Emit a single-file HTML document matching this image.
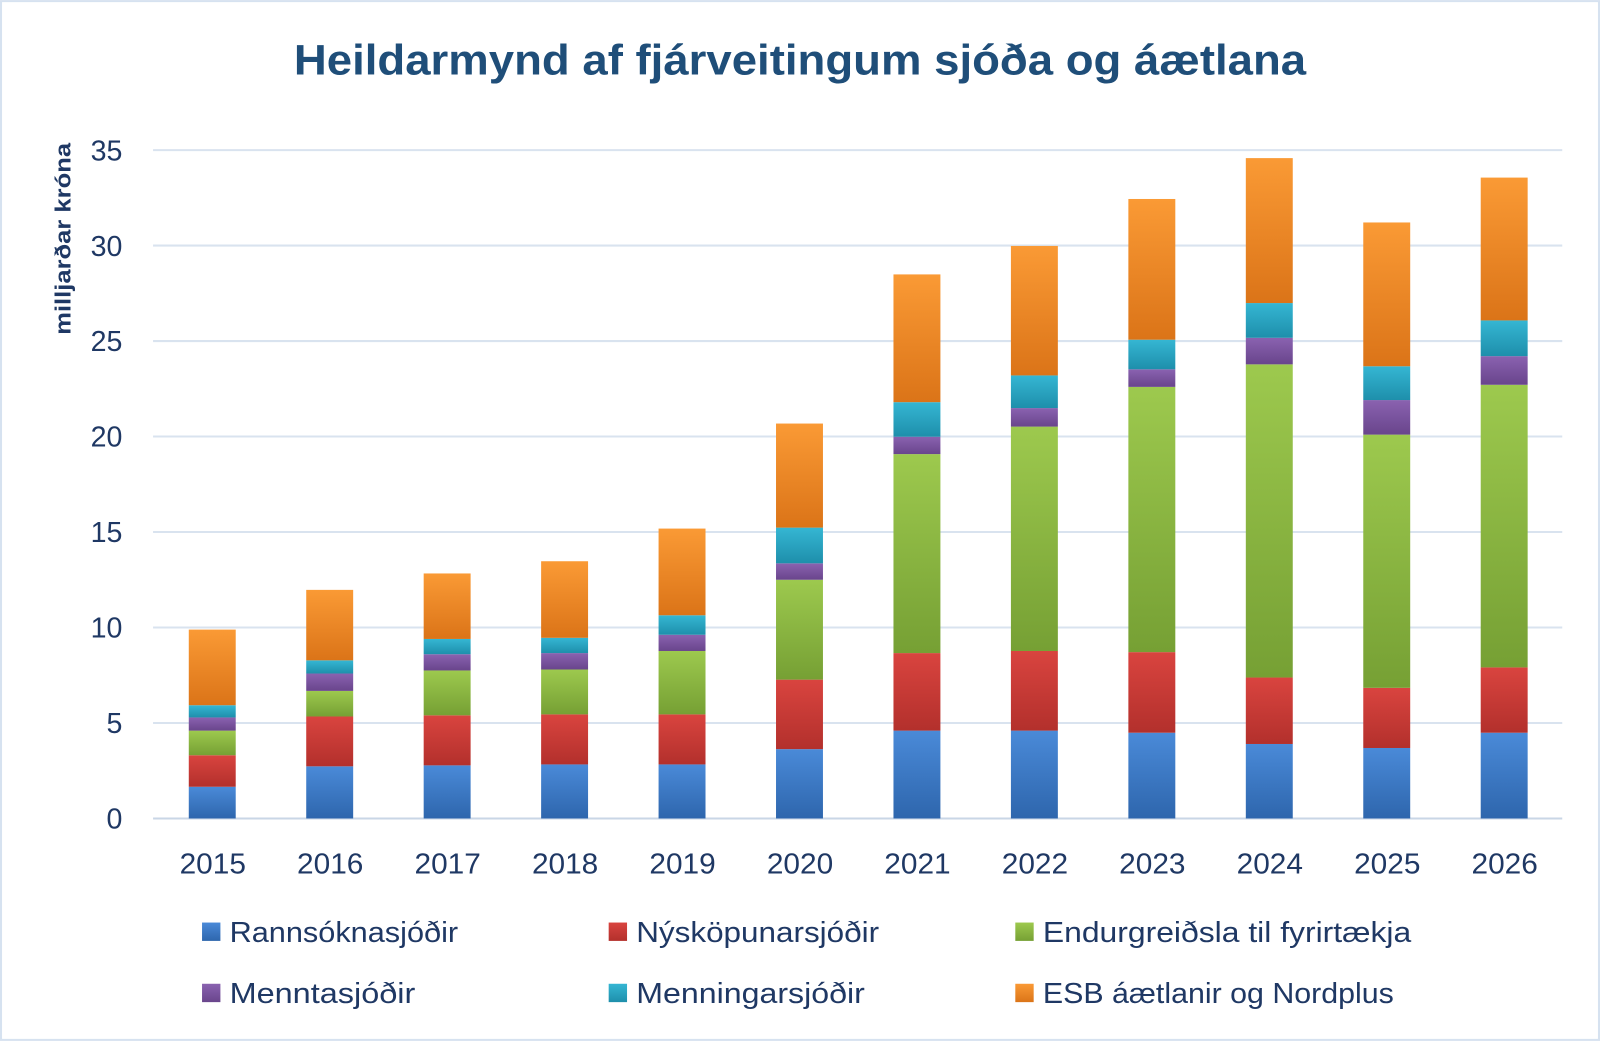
<!DOCTYPE html>
<html><head><meta charset="utf-8"><style>
body{margin:0;background:#fff;}
svg{display:block;font-family:"Liberation Sans",sans-serif;}
</style></head><body>
<svg id="chart" width="1600" height="1041" viewBox="0 0 1568 1020">
<defs>
<linearGradient id="g0" x1="0" y1="0" x2="0" y2="1"><stop offset="0" stop-color="#4a8ad8"/><stop offset="1" stop-color="#2e66ad"/></linearGradient>
<linearGradient id="g1" x1="0" y1="0" x2="0" y2="1"><stop offset="0" stop-color="#d9443f"/><stop offset="1" stop-color="#b3302c"/></linearGradient>
<linearGradient id="g2" x1="0" y1="0" x2="0" y2="1"><stop offset="0" stop-color="#9dc94e"/><stop offset="1" stop-color="#76a034"/></linearGradient>
<linearGradient id="g3" x1="0" y1="0" x2="0" y2="1"><stop offset="0" stop-color="#8a62b0"/><stop offset="1" stop-color="#69458c"/></linearGradient>
<linearGradient id="g4" x1="0" y1="0" x2="0" y2="1"><stop offset="0" stop-color="#35b6d3"/><stop offset="1" stop-color="#1e8fab"/></linearGradient>
<linearGradient id="g5" x1="0" y1="0" x2="0" y2="1"><stop offset="0" stop-color="#fa9a35"/><stop offset="1" stop-color="#db7418"/></linearGradient>
</defs>
<rect x="1" y="1" width="1566" height="1018" fill="#fff" stroke="#d6e2f0" stroke-width="2"/>
<text x="288" y="73" textLength="992" lengthAdjust="spacingAndGlyphs" font-size="42" font-weight="bold" fill="#1f4e79">Heildarmynd af fjárveitingum sjóða og áætlana</text>
<text transform="translate(69,328) rotate(-90)" textLength="188" lengthAdjust="spacingAndGlyphs" font-size="22" font-weight="bold" fill="#1f3864">milljarðar króna</text>
<g id="grid"></g><g id="bars"></g><g id="legend"></g>
</svg>
<script>
const categories=["2015","2016","2017","2018","2019","2020","2021","2022","2023","2024","2025","2026"];
const seriesNames=["Rannsóknasjóðir","Nýsköpunarsjóðir","Endurgreiðsla til fyrirtækja","Menntasjóðir","Menningarsjóðir","ESB áætlanir og Nordplus"];
const rannsokn=[1.66,2.73,2.78,2.83,2.83,3.63,4.6,4.6,4.49,3.9,3.69,4.49];
const nyskopun=[1.65,2.61,2.62,2.62,2.62,3.64,4.06,4.17,4.22,3.48,3.15,3.42];
const endurgreidsla=[1.29,1.34,2.35,2.35,3.32,5.23,10.42,11.75,13.89,16.4,13.26,14.8];
const mennta=[0.69,0.91,0.85,0.86,0.85,0.86,0.91,0.97,0.92,1.39,1.81,1.5];
const menning=[0.64,0.69,0.8,0.8,1.02,1.87,1.81,1.71,1.55,1.82,1.77,1.87];
const esb=[3.96,3.69,3.43,4.01,4.54,5.45,6.69,6.78,7.37,7.59,7.53,7.48];
const yTicks=[0,5,10,15,20,25,30,35];
const series=[rannsokn,nyskopun,endurgreidsla,mennta,menning,esb];
const legendWidths=[224,238,361,182,224,344];
const NS="http://www.w3.org/2000/svg";
const y0=802,pxPer=655/35;
function yScale(v){return y0-v*pxPer;}
function xScale(i){return 208+i*115.1;}
const grid=document.getElementById('grid');
yTicks.forEach(t=>{
 const l=document.createElementNS(NS,'line');
 l.setAttribute('x1',150);l.setAttribute('x2',1531);l.setAttribute('y1',yScale(t));l.setAttribute('y2',yScale(t));
 l.setAttribute('stroke',t===0?'#c9d6e6':'#d9e3ef');l.setAttribute('stroke-width',2);
 
 
 grid.appendChild(l);
 const tx=document.createElementNS(NS,'text');
 tx.setAttribute('x',120);tx.setAttribute('y',yScale(t)+10);tx.setAttribute('text-anchor','end');
 tx.setAttribute('font-size','28');tx.setAttribute('fill','#1f3864');tx.textContent=t;
 
 
 grid.appendChild(tx);
});
const bars=document.getElementById('bars');
categories.forEach((c,i)=>{
 let cum=0;
 series.forEach((s,k)=>{
  const r=document.createElementNS(NS,'rect');
  const top=yScale(cum+s[i]),bot=yScale(cum);
  r.setAttribute('x',xScale(i)-23);r.setAttribute('width',46);
  r.setAttribute('y',top);r.setAttribute('height',bot-top);
  r.setAttribute('fill','url(#g'+k+')');
  
  
  bars.appendChild(r);
  cum+=s[i];
 });
 const tx=document.createElementNS(NS,'text');
 tx.setAttribute('x',xScale(i)-32);tx.setAttribute('y',856);
 tx.setAttribute('textLength',65);tx.setAttribute('lengthAdjust','spacingAndGlyphs');
 tx.setAttribute('font-size','28');tx.setAttribute('fill','#1f3864');tx.textContent=c;
 
 
 bars.appendChild(tx);
});
const legend=document.getElementById('legend');
seriesNames.forEach((n,k)=>{
 const col=k%3,row=Math.floor(k/3);
 const x=198+col*398.5,y=904+row*60;
 const r=document.createElementNS(NS,'rect');
 r.setAttribute('x',x);r.setAttribute('y',y);r.setAttribute('width',18);r.setAttribute('height',18);
 r.setAttribute('fill','url(#g'+k+')');
 
 
 legend.appendChild(r);
 const tx=document.createElementNS(NS,'text');
 tx.setAttribute('x',x+27);tx.setAttribute('y',y+19);tx.setAttribute('font-size','28');
 tx.setAttribute('textLength',legendWidths[k]);tx.setAttribute('lengthAdjust','spacingAndGlyphs');
 tx.setAttribute('fill','#1f3864');tx.textContent=n;
 
 
 legend.appendChild(tx);
});
</script>
</body></html>
